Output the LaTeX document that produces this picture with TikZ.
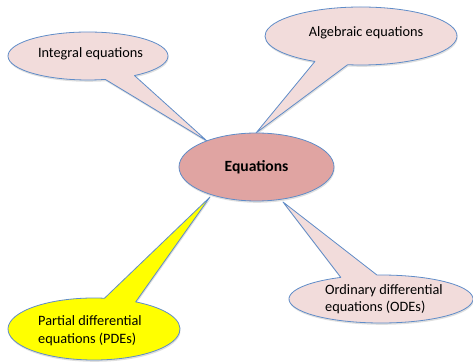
\documentclass[tikz,border=0pt]{standalone}
\usepackage{fontspec}
\setmainfont{Carlito}
\usetikzlibrary{shadows}
\definecolor{lpink}{RGB}{242,220,219}
\definecolor{mpink}{RGB}{224,164,162}
\definecolor{bblue}{RGB}{95,140,200}
\definecolor{yel}{RGB}{255,255,0}
\tikzset{
  callout/.style={draw=bblue, line width=0.8pt, line join=round,
    drop shadow={shadow xshift=0.6pt, shadow yshift=-1.8pt, opacity=0.25}},
  lbl/.style={font=\fontsize{14.3}{17.5}\selectfont, text=black, inner sep=0pt},
}
\begin{document}
\begin{tikzpicture}[x=1pt,y=1pt]
\useasboundingbox (0,0) rectangle (473,361);
\coordinate (tipI) at (207,220);
\coordinate (tipA) at (256,228);
\coordinate (tipO) at (283,159);
\coordinate (tipP) at (210,164);
% Integral equations callout
\filldraw[callout, fill=lpink] (tipI) -- ([shift={(88,305)}]-54.5:80 and 24)
  arc[start angle=-54.5, end angle=282.5, x radius=80, y radius=24] -- cycle;
% Algebraic equations callout
\filldraw[callout, fill=lpink] (tipA) -- ([shift={(361,325)}]262:96 and 29)
  arc[start angle=262, end angle=601.3, x radius=96, y radius=29] -- cycle;
% ODE callout
\filldraw[callout, fill=lpink] (tipO) -- ([shift={(381,62)}]115.9:92 and 24)
  arc[start angle=115.9, end angle=452.5, x radius=92, y radius=24] -- cycle;
% PDE callout
\filldraw[callout, fill=yel] (tipP) -- ([shift={(94,32)}]83:86 and 31)
  arc[start angle=83, end angle=421, x radius=86, y radius=31] -- cycle;
% central ellipse
\filldraw[callout, fill=mpink] (256.5,194) ellipse[x radius=77.5, y radius=34];
\node[lbl, font=\fontsize{15.6}{18}\selectfont\bfseries] (eq) at (256.5,194) {Equations};
\node[lbl] (int) at (90.5,307) {Integral equations};
\node[lbl] (alg) at (366,328) {Algebraic equations};
\node[lbl, align=left, anchor=west] (ode) at (325,62) {Ordinary differential\\equations (ODEs)};
\node[lbl, align=left, anchor=west] (pde) at (38,30.5) {Partial differential\\equations (PDEs)};
\end{tikzpicture}
\end{document}
